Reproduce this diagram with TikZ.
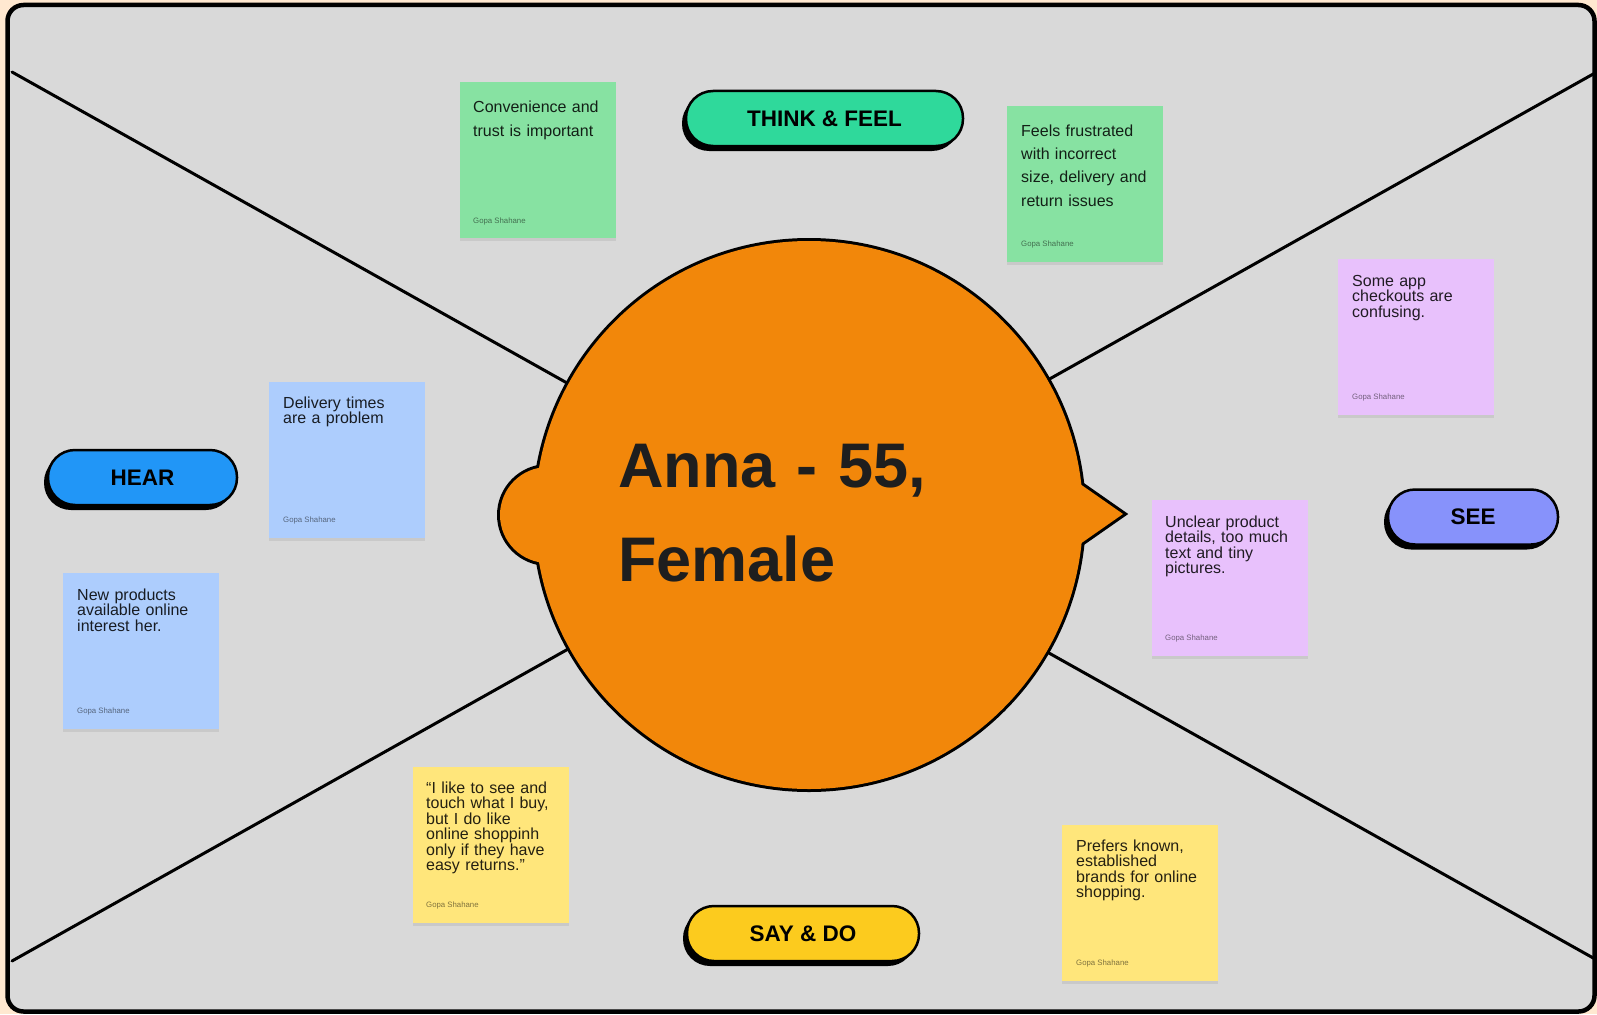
\documentclass[tikz,border=0pt]{standalone}
\usepackage{fontspec}
\setmainfont{Liberation Sans}
\usepackage{tikz}
\usetikzlibrary{positioning,calc,shadows}
\definecolor{peach}{RGB}{255,232,208}
\definecolor{boardgray}{RGB}{217,217,217}
\definecolor{personaorange}{RGB}{242,135,10}
\definecolor{thinkgreen}{RGB}{47,217,155}
\definecolor{hearblue}{RGB}{33,150,247}
\definecolor{seeviolet}{RGB}{135,146,251}
\definecolor{sayyellow}{RGB}{252,203,30}
\definecolor{notegreen}{RGB}{135,226,162}
\definecolor{noteblue}{RGB}{173,205,253}
\definecolor{notepurple}{RGB}{232,193,252}
\definecolor{noteyellow}{RGB}{255,230,123}
\definecolor{titleblack}{RGB}{30,30,30}

\begin{document}
\begin{tikzpicture}[x=1pt,y=-1pt,
  diag/.style={line width=3pt,line cap=round},
  pill/.style={draw,line width=2.5pt,rounded corners=27pt,minimum height=55pt,inner sep=0pt,
    font=\fontsize{22.5}{22.5}\selectfont\bfseries,
    drop shadow={shadow xshift=-4pt,shadow yshift=-5pt,fill=black,opacity=1}},
  sticky/.style={anchor=north west,minimum width=156pt,minimum height=156pt,inner sep=0pt,
    drop shadow={shadow xshift=0pt,shadow yshift=-2.5pt,fill=black,opacity=.07}},
  stickytext/.style={anchor=base west,inner sep=0pt,text width=142pt,align=left,
    text opacity=.86,font=\fontsize{16}{15.5}\selectfont},
  author/.style={anchor=base west,inner sep=0pt,text opacity=.5,
    font=\fontsize{7.8}{8}\selectfont}]
  \useasboundingbox (0,0) rectangle (1597,1014);
  \fill[peach] (0,0) rectangle (1597,1014);
  % board
  \draw[line width=4.5pt,rounded corners=16pt,fill=boardgray] (7.5,5) rectangle (1594.5,1011.5);
  \coordinate (tl) at (12,72);
  \coordinate (tr) at (1595,73);
  \coordinate (bl) at (12,961);
  \coordinate (br) at (1595,959);
  \draw[diag] (tl) -- (br);
  \draw[diag] (bl) -- (tr);
  % persona bubble
  \draw[line width=6pt] (548,515) circle[radius=48pt];
  \draw[line width=6pt] (1060,470) -- (1123,514) -- (1060,558) -- cycle;
  \draw[line width=6pt] (809,515) circle[radius=274pt];
  \fill[personaorange] (548,515) circle[radius=48pt];
  \fill[personaorange] (1060,470) -- (1123,514) -- (1060,558) -- cycle;
  \fill[personaorange] (809,515) circle[radius=274pt];
  \node[anchor=base west,inner sep=0pt,text width=400pt,align=left,text=titleblack,
    font=\fontsize{63}{94}\selectfont\bfseries] (persona) at (618,487) {Anna - 55,\\Female};
  % quadrant labels
  \node[pill,fill=thinkgreen,minimum width=277pt] (think) at (824.5,118.5) {THINK \& FEEL};
  \node[pill,fill=hearblue,minimum width=189pt] (hear) at (142.5,477.5) {HEAR};
  \node[pill,fill=seeviolet,minimum width=170pt] (see) at (1473,517) {SEE};
  \node[pill,fill=sayyellow,minimum width=232pt] (say) at (803,933.5) {SAY \& DO};
  % think & feel notes
  \node[sticky,fill=notegreen] (thinkA) at (460,82) {};
  \node[stickytext,font=\fontsize{16}{24}\selectfont] (thinkAtext) at ($(thinkA.north west)+(13,31)$) {Convenience and\\trust is important};
  \node[author] (thinkAby) at ($(thinkA.north west)+(13,141)$) {Gopa Shahane};
  \node[sticky,fill=notegreen] (thinkB) at (1007,106) {};
  \node[stickytext,font=\fontsize{16}{23.4}\selectfont] (thinkBtext) at ($(thinkB.north west)+(14,30)$) {Feels frustrated\\with incorrect\\size, delivery and\\return issues};
  \node[author] (thinkBby) at ($(thinkB.north west)+(14,140)$) {Gopa Shahane};
  % see notes
  \node[sticky,fill=notepurple] (seeA) at (1338,259) {};
  \node[stickytext] (seeAtext) at ($(seeA.north west)+(14,27)$) {Some app\\checkouts are\\confusing.};
  \node[author] (seeAby) at ($(seeA.north west)+(14,140)$) {Gopa Shahane};
  \node[sticky,fill=notepurple] (seeB) at (1152,500) {};
  \node[stickytext] (seeBtext) at ($(seeB.north west)+(13,27)$) {Unclear product\\details, too much\\text and tiny\\pictures.};
  \node[author] (seeBby) at ($(seeB.north west)+(13,140)$) {Gopa Shahane};
  % hear notes
  \node[sticky,fill=noteblue] (hearA) at (269,382) {};
  \node[stickytext] (hearAtext) at ($(hearA.north west)+(14,26)$) {Delivery times\\are a problem};
  \node[author] (hearAby) at ($(hearA.north west)+(14,140)$) {Gopa Shahane};
  \node[sticky,fill=noteblue] (hearB) at (63,573) {};
  \node[stickytext] (hearBtext) at ($(hearB.north west)+(14,27)$) {New products\\available online\\interest her.};
  \node[author] (hearBby) at ($(hearB.north west)+(14,140)$) {Gopa Shahane};
  % say & do notes
  \node[sticky,fill=noteyellow] (sayA) at (413,767) {};
  \node[stickytext] (sayAtext) at ($(sayA.north west)+(13,26)$) {“I like to see and\\touch what I buy,\\but I do like\\online shoppinh\\only if they have\\easy returns.”};
  \node[author] (sayAby) at ($(sayA.north west)+(13,140)$) {Gopa Shahane};
  \node[sticky,fill=noteyellow] (sayB) at (1062,825) {};
  \node[stickytext] (sayBtext) at ($(sayB.north west)+(14,26)$) {Prefers known,\\established\\brands for online\\shopping.};
  \node[author] (sayBby) at ($(sayB.north west)+(14,140)$) {Gopa Shahane};
\end{tikzpicture}
\end{document}
